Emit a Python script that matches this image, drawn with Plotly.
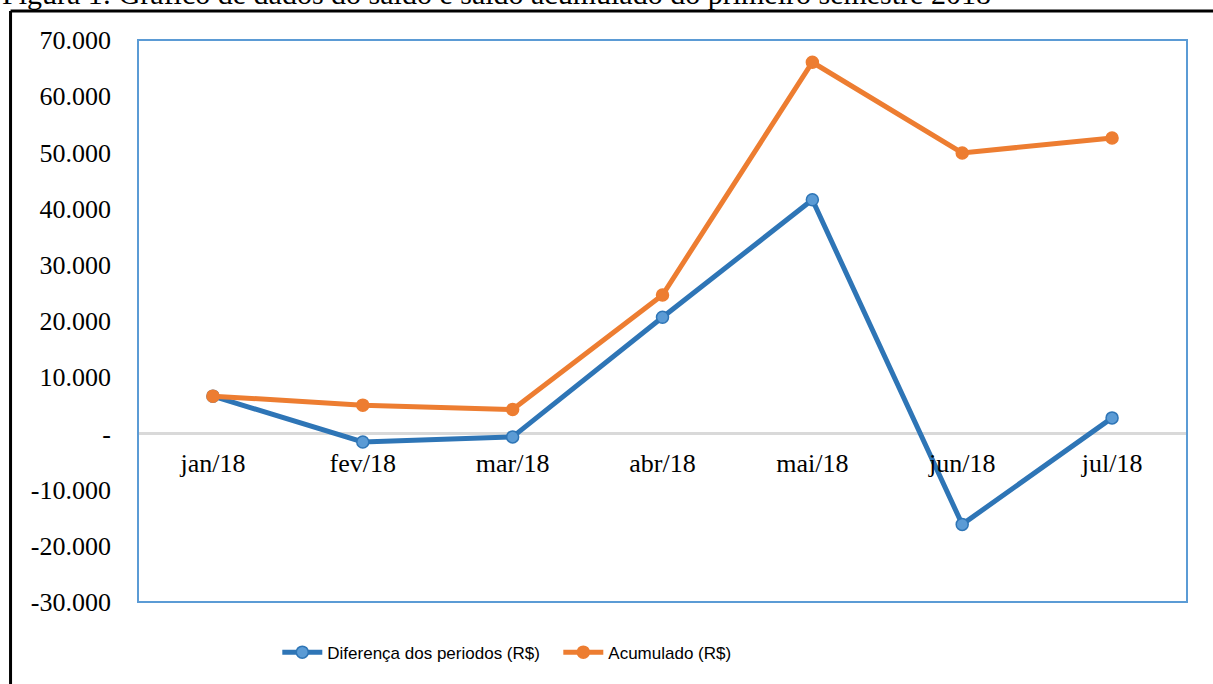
import plotly.graph_objects as go

months = ["jan/18", "fev/18", "mar/18", "abr/18", "mai/18", "jun/18", "jul/18"]
diferenca = [6630, -1520, -620, 20660, 41570, -16190, 2760]
acumulado = [6630, 5030, 4260, 24630, 66040, 49900, 52570]
ytick_vals = [70000, 60000, 50000, 40000, 30000, 20000, 10000, 0, -10000, -20000, -30000]
ytick_text = ["70.000", "60.000", "50.000", "40.000", "30.000", "20.000", "10.000", "-",
              "-10.000", "-20.000", "-30.000"]
caption = "Figura 1: Gráfico de dados do saldo e saldo acumulado do primeiro semestre 2018"

serif = "Liberation Serif, Times New Roman, serif"
sans = "Liberation Sans, Arial, sans-serif"

fig = go.Figure()
fig.add_trace(go.Scatter(
    x=months, y=diferenca, mode="lines+markers", name="Diferença dos periodos (R$)",
    line=dict(color="#2E75B6", width=5),
    marker=dict(size=12, color="#5B9BD5", line=dict(color="#2E75B6", width=1.5)),
))
fig.add_trace(go.Scatter(
    x=months, y=acumulado, mode="lines+markers", name="Acumulado (R$)",
    line=dict(color="#ED7D31", width=5),
    marker=dict(size=12, color="#ED7D31", line=dict(color="#ED7D31", width=1.5)),
))

ymin, ymax = -30000, 70000
fig.update_layout(
    width=1213, height=684,
    margin=dict(l=138, r=26, t=40, b=82),
    paper_bgcolor="white", plot_bgcolor="white",
    showlegend=True,
    legend=dict(orientation="h", x=0.1328, xanchor="left", y=-0.09, yanchor="middle",
                font=dict(family=sans, size=17, color="#000000"),
                itemwidth=40, traceorder="normal",
                entrywidth=226, entrywidthmode="pixels"),
    xaxis=dict(
        type="category", range=[-0.5, 6.5], anchor="free",
        position=(0 - ymin) / (ymax - ymin),
        showline=False, showgrid=False, zeroline=False, ticks="",
        tickfont=dict(family=serif, size=26, color="#000000"),
        ticklabelstandoff=12,
    ),
    yaxis=dict(
        range=[ymin, ymax], tickvals=ytick_vals, ticktext=ytick_text,
        showgrid=False, showline=False, ticks="",
        zeroline=True, zerolinecolor="#D9D9D9", zerolinewidth=2.5,
        tickfont=dict(family=serif, size=26, color="#000000"),
        ticklabelstandoff=26,
    ),
    shapes=[
        dict(type="rect", xref="paper", yref="paper", x0=0, x1=1, y0=0, y1=1,
             line=dict(color="#5B9BD5", width=2), layer="above"),
        dict(type="line", xref="paper", yref="paper", x0=-0.1215, x1=1.03, y0=1.0516, y1=1.0516,
             line=dict(color="#000000", width=3)),
        dict(type="line", xref="paper", yref="paper", x0=-0.1215, x1=-0.1215, y0=-0.16, y1=1.0516,
             line=dict(color="#000000", width=3)),
    ],
    annotations=[
        dict(text=caption, xref="paper", yref="paper", x=(0 - 138) / 1049, y=(602 + 6) / 562,
             xanchor="left", yanchor="middle", showarrow=False,
             font=dict(family=serif, size=30, color="#000000")),
    ],
)

fig.write_html("out.html", post_script="document.body.style.margin='0';",
               config={"displayModeBar": False})
